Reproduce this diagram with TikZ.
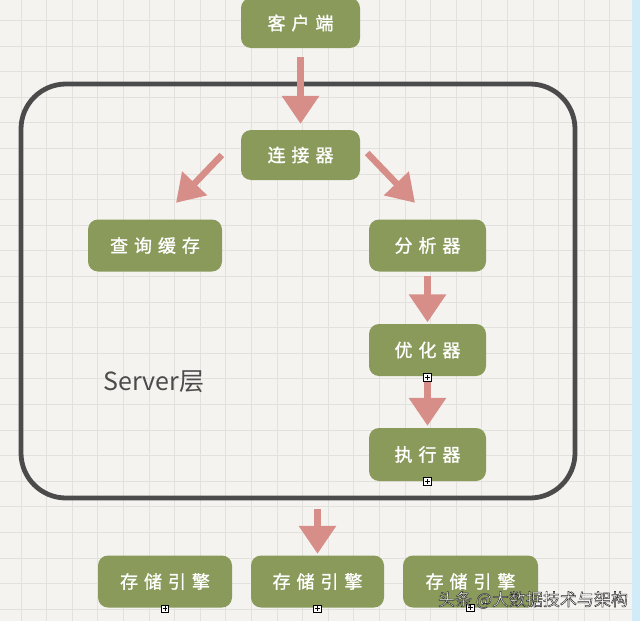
\documentclass[tikz,border=0pt]{standalone}
\usepackage{fontspec}
\newfontfamily\boxfont[LetterSpace=33,FakeBold=1.2]{Noto Sans CJK SC}
\newfontfamily\plainfont{Noto Sans CJK SC}
\usetikzlibrary{arrows.meta,calc}

\definecolor{paper}{HTML}{F4F3F0}
\definecolor{gridcol}{HTML}{E2E1DD}
\definecolor{olive}{HTML}{8A9A5B}
\definecolor{rosepink}{HTML}{D78E89}
\definecolor{chalk}{HTML}{4B4B4B}
\definecolor{edgeblue}{HTML}{D2EBF8}

% outlined text: white fill, dark stroke
\newcommand\outlinedtext[1]{%
  \special{pdf:code q 2 Tr 0.45 w 0.15 G 1 g}#1\special{pdf:code Q}}

\tikzset{
  gridline/.style={draw=gridcol, line width=0.8pt},
  stage/.style={rectangle, rounded corners=10pt, fill=olive, text=white,
    font=\boxfont\fontsize{18}{18}\selectfont, inner sep=0pt,
    minimum width=117pt, minimum height=52pt},
  widestage/.style={stage, minimum width=134pt},
  layerbox/.style={rectangle, draw=chalk, line width=4.8pt, rounded corners=45pt,
    inner sep=0pt},
  flow/.style={draw=rosepink, line width=6.5pt,
    -{Triangle[width=36pt,length=28pt]}},
  slant/.style={draw=rosepink, line width=6.5pt,
    -{Triangle[width=33pt,length=27pt]}},
  plusbox/.style={rectangle, draw=black, fill=white, line width=0.6pt,
    minimum size=7.5pt, inner sep=0pt,
    path picture={
      \draw[line width=0.6pt]
        ($(path picture bounding box.north)+(0,-1.3pt)$) --
        ($(path picture bounding box.south)+(0,1.3pt)$)
        ($(path picture bounding box.west)+(1.3pt,0)$) --
        ($(path picture bounding box.east)+(-1.3pt,0)$);}},
  markfont/.style={font=\plainfont\fontsize{17}{17}\selectfont},
}

\begin{document}
\begin{tikzpicture}[x=1pt,y=-1pt]
  \useasboundingbox (0,0) rectangle (640,621);
  % squared paper
  \fill[paper] (0,0) rectangle (640,621);
  \foreach \i in {0,...,23} \draw[gridline] ({21+25.6*\i},0) -- ({21+25.6*\i},621);
  \foreach \j in {0,...,23} \draw[gridline] (0,{20.3+25.6*\j}) -- (632,{20.3+25.6*\j});
  \fill[edgeblue] (632,0) rectangle (640,621);

  % Server layer frame
  \node[layerbox, minimum width=554pt, minimum height=414pt] (server) at (298,291) {};
  \node[font=\plainfont\fontsize{25}{25}\selectfont, text=chalk] (serverlabel) at (154,382) {Server层};

  % stages
  \node[stage, minimum width=119pt, minimum height=50pt] (client) at (300.5,23) {客户端};
  \node[stage, minimum width=119pt, minimum height=50pt] (conn) at (300.5,155) {连接器};
  \node[widestage] (cache) at (155,245.5) {查询缓存};
  \node[stage] (parser) at (427.5,245.5) {分析器};
  \node[stage] (opt) at (427.5,350) {优化器};
  \node[stage, minimum height=53pt] (exec) at (427.5,454.5) {执行器};
  \node[widestage] (st1) at (165,581.5) {存储引擎};
  \node[widestage, minimum width=133pt] (st2) at (317.5,581.5) {存储引擎};
  \node[widestage, minimum width=135pt] (st3) at (470.5,581.5) {存储引擎};

  % flow arrows
  \draw[flow, shorten <=9pt, shorten >=6pt] (client) -- (conn);
  \draw[slant] ($(conn.west)+(-19,0)$) -- ($(cache.north)+(21,-16.5)$);
  \draw[slant] ($(conn.east)+(7,-2)$) -- ($(parser.north)+(-12.5,-16.5)$);
  \draw[flow, shorten <=4.5pt, shorten >=1.5pt] (parser) -- (opt);
  \draw[flow, shorten <=6pt, shorten >=2pt] (opt) -- (exec);
  \draw[flow, shorten <=9pt, shorten >=1.5pt] (server.south -| st2.north) -- (st2.north);

  % expand markers
  \node[plusbox] (optmark) at ($(opt.south)+(0,1)$) {};
  \node[plusbox] (execmark) at ($(exec.south)+(0,0)$) {};
  \node[plusbox] (st1mark) at ($(st1.south)+(0,1)$) {};
  \node[plusbox] (st2mark) at ($(st2.south)+(0,1)$) {};
  \node[plusbox] (st3mark) at ($(st3.south)+(0,0)$) {};

  % source mark
  \node[markfont, text=white] (sourcemark) at (533,600) {\outlinedtext{头条 @大数据技术与架构}};
\end{tikzpicture}
\end{document}
